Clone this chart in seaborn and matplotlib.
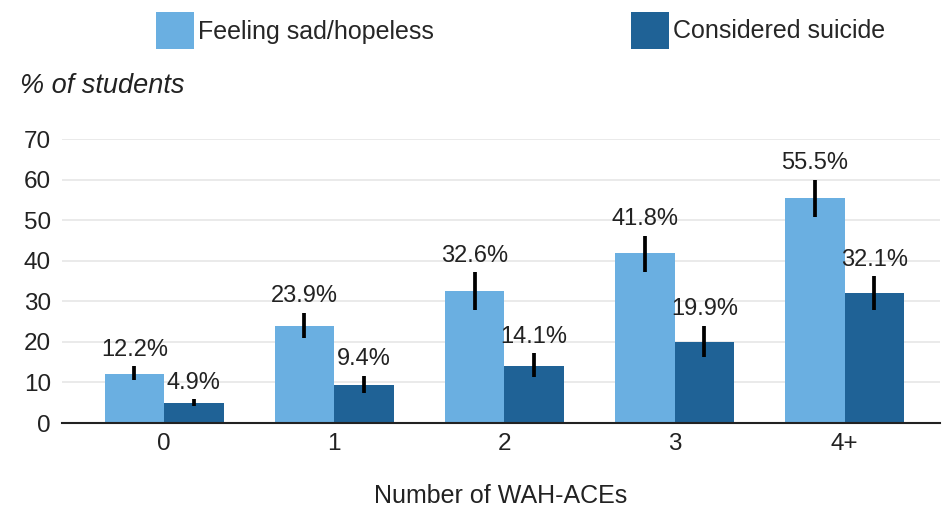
import matplotlib
matplotlib.use("Agg")
import matplotlib.pyplot as plt
import seaborn as sns
import pandas as pd
from matplotlib.patches import Patch

categories = ["0", "1", "2", "3", "4+"]
series_names = ["Feeling sad/hopeless", "Considered suicide"]
sad_values = [12.2, 23.9, 32.6, 41.8, 55.5]
sad_low = [10.6, 21.0, 27.9, 37.2, 50.8]
sad_high = [14.0, 27.1, 37.2, 46.1, 59.9]
sui_values = [4.9, 9.4, 14.1, 19.9, 32.1]
sui_low = [4.2, 7.5, 11.3, 16.3, 27.9]
sui_high = [5.9, 11.6, 17.2, 23.9, 36.2]
y_ticks = [0, 10, 20, 30, 40, 50, 60, 70]

colors = ["#6aafe1", "#1f6296"]

sns.set_theme(style="white")
plt.rcParams["font.family"] = ["Liberation Sans", "DejaVu Sans"]

df = pd.DataFrame({
    "ace": categories * 2,
    "pct": sad_values + sui_values,
    "measure": [series_names[0]] * 5 + [series_names[1]] * 5,
})

fig = plt.figure(figsize=(9.42, 5.19), dpi=100)
ax = fig.add_axes([62 / 942, 1 - 423 / 519, 878 / 942, (423 - 139) / 519])

sns.barplot(data=df, x="ace", y="pct", hue="measure", order=categories,
            hue_order=series_names, palette=colors, width=0.7, saturation=1,
            errorbar=None, legend=False, ax=ax, linewidth=0)

bars = [p for p in ax.patches]
sad_bars = bars[:5]
sui_bars = bars[5:10]

for blist, vals, lo, hi in [(sad_bars, sad_values, sad_low, sad_high),
                            (sui_bars, sui_values, sui_low, sui_high)]:
    xs = [b.get_x() + b.get_width() / 2 for b in blist]
    yerr = [[v - l for v, l in zip(vals, lo)], [h - v for v, h in zip(vals, hi)]]
    ax.errorbar(xs, vals, yerr=yerr, fmt="none", ecolor="black", elinewidth=2.7,
                capsize=0, zorder=5)
    for x, v, h in zip(xs, vals, hi):
        ax.annotate(f"{v}%", (x, h), xytext=(0, 4), textcoords="offset points",
                    ha="center", va="bottom", fontsize=17, color="#222222")

ax.set_ylim(0, 70)
ax.set_xlim(-0.6, 4.56)
ax.set_yticks(y_ticks)
ax.yaxis.grid(True, color="#e6e6e6", linewidth=1.2)
ax.set_axisbelow(True)
for s in ["top", "right", "left"]:
    ax.spines[s].set_visible(False)
ax.spines["bottom"].set_color("#222222")
ax.spines["bottom"].set_linewidth(1.5)
ax.tick_params(axis="both", length=0, labelsize=17.5, colors="#222222", pad=8)
ax.tick_params(axis="x", pad=7)
ax.set_ylabel("")
ax.set_xlabel("Number of WAH-ACEs", fontsize=18, color="#222222", labelpad=21)

fig.text(20 / 942, 1 - 86 / 519, "% of students", fontsize=19.5, style="italic",
         color="#222222", va="center", ha="left")

handles = [Patch(facecolor=c, edgecolor="none") for c in colors]
fig.legend(handles, series_names, loc="upper left", ncol=2,
           bbox_to_anchor=(156 / 942, 1 - 12 / 519), frameon=False,
           fontsize=18, handlelength=1.52, handleheight=1.9, handletextpad=0.15,
           columnspacing=7.9, borderaxespad=0, borderpad=0)

fig.savefig("out.png", dpi=100)
